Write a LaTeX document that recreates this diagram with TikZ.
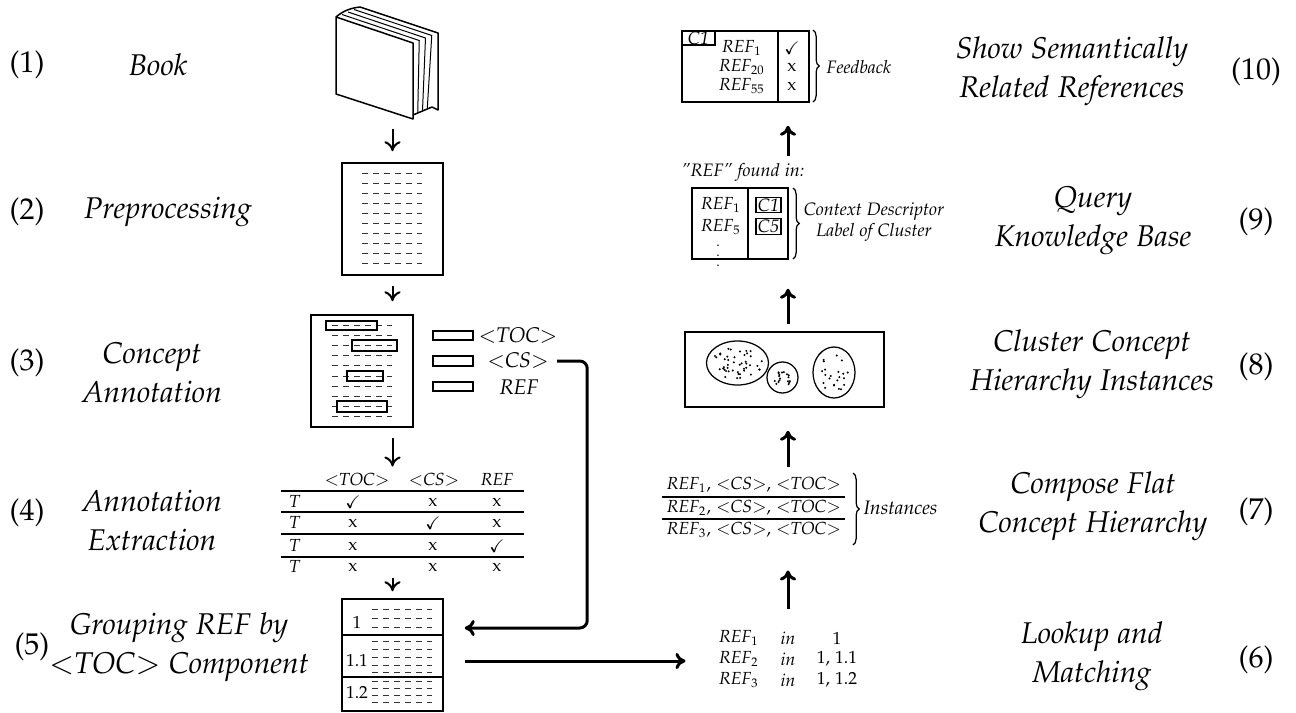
\documentclass[tikz,border=0pt]{standalone}
\usepackage[T1]{fontenc}
\usepackage[sc]{mathpazo}
\usepackage{amssymb}
\usetikzlibrary{arrows.meta,calc,fit,decorations.pathreplacing}
\newcommand{\refsub}[1]{\textit{REF}$_{#1}$}
\newcommand{\ctag}[1]{$<$\textit{#1}$>$}
\newcommand{\ok}{$\checkmark$}
\tikzset{
	lbl/.style={font=\fontsize{12}{15.5}\selectfont\itshape, align=center},
	num/.style={font=\fontsize{12}{14}\selectfont},
	txt/.style={font=\fontsize{7}{8.5}\selectfont, inner sep=0pt},
	itxt/.style={font=\fontsize{7.2}{8.4}\selectfont\itshape, inner sep=0pt, align=center},
	leg/.style={font=\fontsize{8.5}{10}\selectfont\itshape, inner sep=0pt},
	box/.style={draw, line width=0.6pt, inner sep=0pt},
	frame/.style={inner sep=0pt},
	dashline/.style={line width=0.4pt, black!80, dash pattern=on 2.2pt off 2.2pt},
	arr/.style={line width=0.8pt, -{To[length=4pt,width=6.5pt]}},
	bigarr/.style={line width=1.2pt, -{To[length=4pt,width=6.5pt]}},
	brc/.style={decorate, decoration={brace, amplitude=2.5pt}, line width=0.5pt},
}

\begin{document}
\begin{tikzpicture}[x=0.4pt, y=-0.4pt]
			%%%%% START %%%%%
			\useasboundingbox (0,0) rectangle (1296,713);
			
			% step labels, left column
			\node[num] (n1) at (27,65) {(1)};
			\node[lbl] (l1) at (158,65) {Book};
			\node[num] (n2) at (27,212) {(2)};
			\node[lbl] (l2) at (168,212) {Preprocessing};
			\node[num] (n3) at (27,363) {(3)};
			\node[lbl] (l3) at (152,373) {Concept\\Annotation};
			\node[num] (n4) at (27,513) {(4)};
			\node[lbl] (l4) at (152,520) {Annotation\\Extraction};
			\node[num] (n5) at (32,647) {(5)};
			\node[lbl] (l5) at (179,647) {Grouping REF by\\\ctag{TOC} Component};
			
			% step labels, right column
			\node[num] (n10) at (1256,72) {(10)};
			\node[lbl] (l10) at (1072,71) {Show Semantically\\Related References};
			\node[num] (n9) at (1256,222) {(9)};
			\node[lbl] (l9) at (1093,221) {Query\\Knowledge Base};
			\node[num] (n8) at (1256,367) {(8)};
			\node[lbl] (l8) at (1092,364) {Cluster Concept\\Hierarchy Instances};
			\node[num] (n7) at (1256,512) {(7)};
			\node[lbl] (l7) at (1093,506) {Compose Flat\\Concept Hierarchy};
			\node[num] (n6) at (1256,660) {(6)};
			\node[lbl] (l6) at (1092,656) {Lookup and\\Matching};
			
			% book
			\node[frame, fit={(336,7) (438,119)}] (book) {};
			\draw[line width=0.6pt, line join=round] (336,17) -- (336,94) -- (413,119) -- (413,43) -- cycle;
			\draw[line width=0.6pt, line join=round] (336,17) .. controls (344,10) and (352,8) .. (360,7) -- (438,33) -- (438,110) -- (432,107) -- (413,115);
			\foreach \t in {0.25,0.5,0.75}
				\draw[line width=0.4pt] ({336+24*\t},{17-10*\t}) -- ({413+25*\t},{43-10*\t}) -- ({413+19*\t},{115-8*\t});
			
			% preprocessed text
			\node[box, fit={(342,163) (443,275)}] (prep) {};
			\foreach \i in {0,...,9}
				\draw[dashline] (362,{173+10.1*\i}) -- (422,{173+10.1*\i});
			
			% annotated text
			\node[box, fit={(311,315) (413,427)}] (annot) {};
			\foreach \i in {0,...,9}
				\draw[dashline] (332,{325+10.2*\i}) -- (392,{325+10.2*\i});
			\draw[line width=0.5pt] (326,321) rectangle (377,330);
			\draw[line width=0.5pt] (352,340) rectangle (397,351);
			\draw[line width=0.5pt] (347,371) rectangle (383,381);
			\draw[line width=0.5pt] (337,401) rectangle (387,412);
			
			% legend
			\draw[line width=0.5pt] (433,331) rectangle (473,340);
			\draw[line width=0.5pt] (433,356) rectangle (473,366);
			\draw[line width=0.5pt] (433,382) rectangle (473,391);
			\node[leg] (toc) at (518,336) {\ctag{TOC}};
			\node[leg] (cs) at (518,361) {\ctag{CS}};
			\node[leg] (ref) at (519,387) {REF};
			
			% extraction table
			\node[frame, fit={(281,472) (524,575)}] (tab) {};
			\node[txt] (hd1) at (357,480) {\ctag{TOC}};
			\node[txt] (hd2) at (434,480) {\ctag{CS}};
			\node[txt] (hd3) at (497,480) {\textit{REF}};
			\foreach \y in {491,512,534,557}
				\draw[line width=0.5pt] (281,\y) -- (524,\y);
			\foreach \y/\a/\b/\c [count=\r] in {502/\ok/x/x, 523/x/\ok/x, 546/x/x/\ok, 567/x/x/x} {
				\node[txt] (t\r) at (295,\y) {\textit{T}};
				\node[txt] (ca\r) at (353,\y) {\a};
				\node[txt] (cb\r) at (433,\y) {\b};
				\node[txt] (cc\r) at (497,\y) {\c};
			}
			
			% grouping by toc
			\node[box, fit={(342,599) (443,711)}] (group) {};
			\draw[line width=0.6pt] (342,635) -- (443,635);
			\draw[line width=0.6pt] (342,677) -- (443,677);
			\node[txt] (g1) at (357,622) {1};
			\node[txt] (g2) at (357,660) {1.1};
			\node[txt] (g3) at (357,692) {1.2};
			\foreach \y in {609,618,627,641,649,657,665,672,681,688,695,702}
				\draw[dashline] (372,\y) -- (432,\y);
			
			% lookup
			\node[frame, fit={(718,628) (860,690)}] (lookup) {};
			\foreach \n/\v [count=\r] in {1/1, 2/{1, 1.1}, 3/{1, 1.2}} {
				\node[txt] (lr\r) at (739,{617+21*\r}) {\refsub{\n}};
				\node[txt] (li\r) at (788,{617+21*\r}) {\textit{in}};
				\node[txt] (lv\r) at (837,{617+21*\r}) {\v};
			}
			
			% instances
			\node[frame, fit={(662,473) (845,545)}] (inst) {};
			\foreach \y [count=\r] in {485,508,530}
				\node[txt] (ir\r) at (754,\y) {\refsub{\r}, \ctag{CS}, \ctag{TOC}};
			\draw[line width=0.5pt] (662,497) -- (845,497);
			\draw[line width=0.5pt] (662,519) -- (845,519);
			\draw[brc] (853,473) -- (853,545);
			\node[itxt, font=\fontsize{7.8}{9}\selectfont\itshape, anchor=west] (instl) at (863,508) {Instances};
			
			% clusters
			\node[box, fit={(685,332) (884,407)}] (clus) {};
			\draw[line width=0.5pt] (737.5,363) ellipse [x radius=12.4pt, y radius=8.8pt];
			\draw[line width=0.5pt] (782.5,377.5) circle (6.2pt);
			\draw[line width=0.5pt] (834,372.5) ellipse [x radius=8.4pt, y radius=10.2pt];
			\pgfmathsetseed{42}
			\foreach \i in {1,...,45} {
				\pgfmathsetmacro{\ang}{360*rnd}
				\pgfmathsetmacro{\rad}{sqrt(rnd)}
				\fill ({737+25*\rad*cos(\ang)},{363+16*\rad*sin(\ang)}) circle (0.45pt);
			}
			\foreach \i in {1,...,18} {
				\pgfmathsetmacro{\ang}{360*rnd}
				\pgfmathsetmacro{\rad}{sqrt(rnd)}
				\fill ({782.5+9*\rad*cos(\ang)},{377.5+10*\rad*sin(\ang)}) circle (0.45pt);
			}
			\foreach \i in {1,...,22} {
				\pgfmathsetmacro{\ang}{360*rnd}
				\pgfmathsetmacro{\rad}{sqrt(rnd)}
				\fill ({834+14*\rad*cos(\ang)},{372.5+20*\rad*sin(\ang)}) circle (0.45pt);
			}
			
			% query
			\node[itxt] (found) at (743,172) {''REF'' found in:};
			\node[box, fit={(692,188) (788,259)}] (query) {};
			\draw[line width=0.6pt] (748,188) -- (748,259);
			\node[txt] (q1) at (721,205) {\refsub{1}};
			\node[txt] (q2) at (721,227) {\refsub{5}};
			\node[txt, font=\fontsize{5.5}{6}\selectfont] (q3) at (718,248) {$\vdots$};
			\node[itxt, draw, line width=0.5pt, minimum width=10pt, minimum height=5.6pt, inner sep=0.6pt] (qc1) at (768.5,205) {C1};
			\node[itxt, draw, line width=0.5pt, minimum width=10pt, minimum height=5.6pt, inner sep=0.6pt] (qc5) at (768.5,226.5) {C5};
			\draw[brc] (793,188) -- (793,259);
			\node[itxt] (ctx) at (874,222) {Context Descriptor\\Label of Cluster};
			
			% feedback
			\node[box, fit={(682,31) (809,102)}] (feed) {};
			\draw[line width=0.6pt] (778,31) -- (778,102);
			\draw[line width=0.5pt] (682,45) -- (715,45) -- (715,31);
			\node[itxt] (fc1) at (698.5,38) {C1};
			\foreach \n/\m/\y [count=\r] in {1/\ok/48, 20/x/67, 55/x/86} {
				\node[txt] (fr\r) at (742,\y) {\refsub{\n}};
				\node[txt] (fm\r) at (792,\y) {\m};
			}
			\draw[brc] (813,30) -- (813,102);
			\node[itxt, anchor=west] (fb) at (826,67) {Feedback};
			
			% arrows
			\coordinate (spine) at (788,0);
			\draw[arr, shorten <=3.6pt, shorten >=4.4pt] (book.south -| prep.north) -- (prep.north);
			\draw[arr, shorten <=4pt, shorten >=5.2pt] (prep.south) -- (annot.north -| prep.south);
			\draw[arr, shorten <=4pt, shorten >=2pt] (annot.south -| prep.south) -- (tab.north -| prep.south);
			\draw[arr, shorten <=0.8pt, shorten >=2.8pt] (tab.south -| group.north) -- (group.north);
			\draw[bigarr, rounded corners=3pt, shorten <=3.2pt] (cs.east) -- ++(38,0) |- ($(group.east)+(21,-27)$);
			\draw[bigarr, shorten <=8.4pt, shorten >=12.8pt] ([yshift=-2.4pt]group.east) -- ([yshift=-2.4pt]group.east -| lookup.west);
			\draw[bigarr, shorten <=7.6pt, shorten >=10pt] (lookup.north -| spine) -- (inst.south -| spine);
			\draw[bigarr, shorten <=2.4pt, shorten >=9.2pt] (inst.north -| spine) -- (clus.south -| spine);
			\draw[bigarr, shorten <=2.8pt, shorten >=11.6pt] (clus.north -| spine) -- (query.south -| spine);
			\draw[bigarr, shorten <=12.4pt, shorten >=9.2pt] (query.north -| spine) -- (feed.south -| spine);
			
			%%%%% END %%%%%
\end{tikzpicture}
\end{document}
